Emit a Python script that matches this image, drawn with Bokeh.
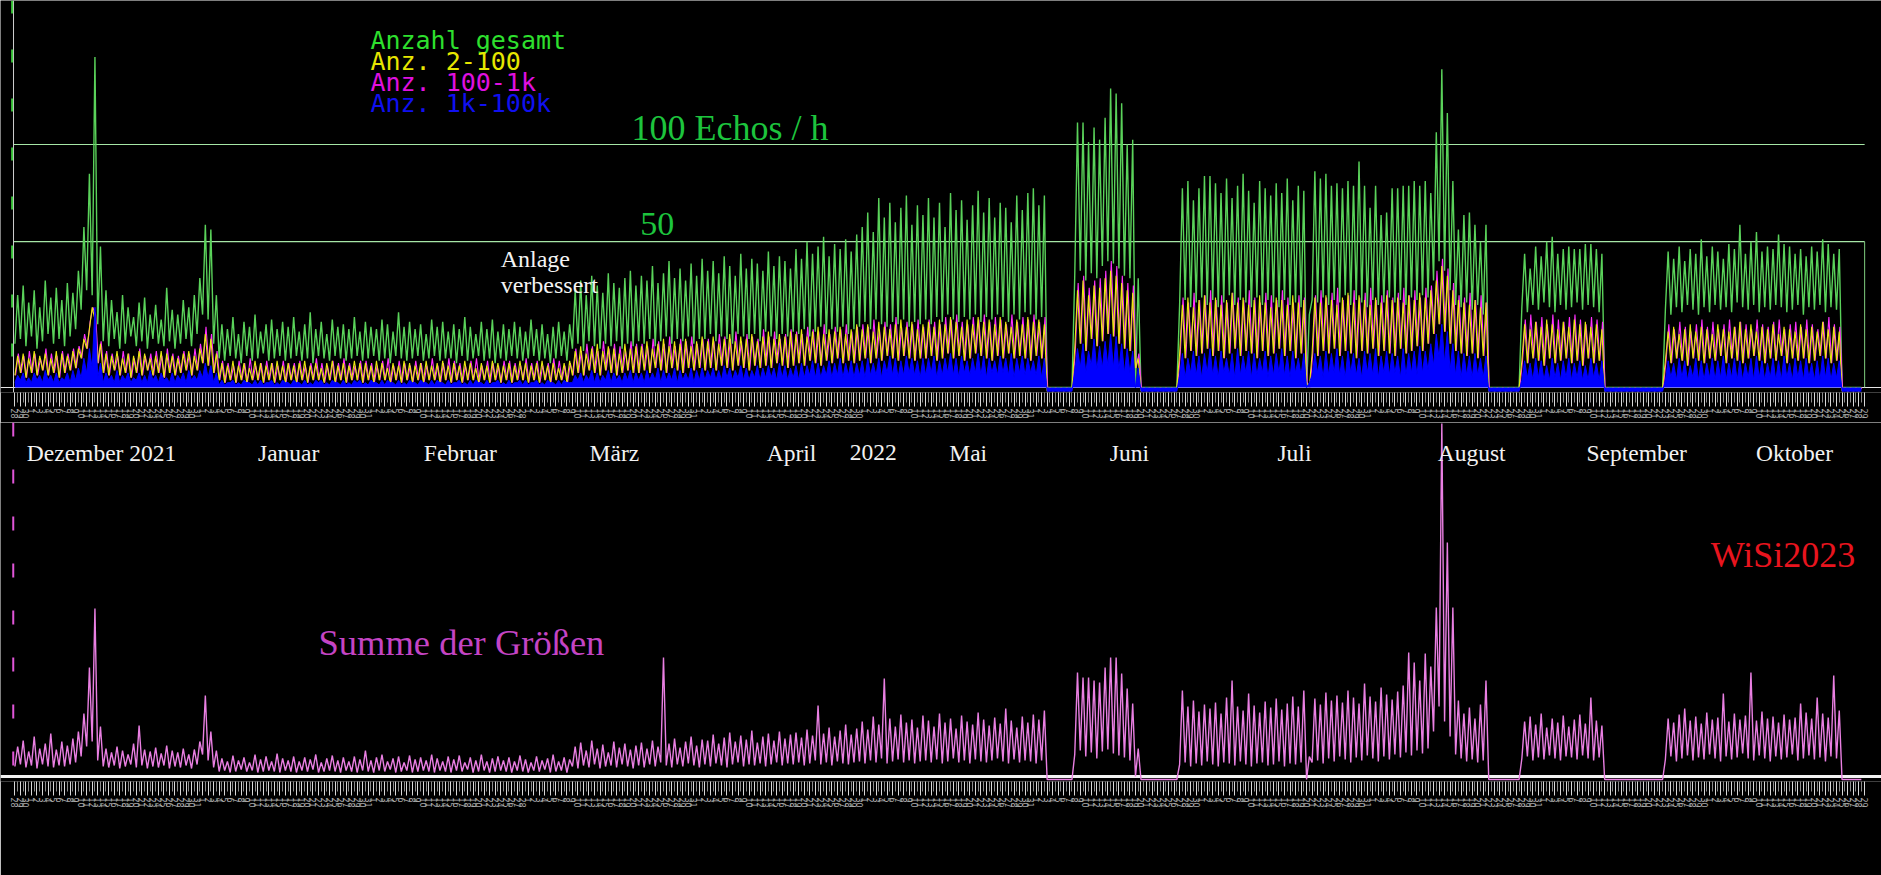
import math
from datetime import date, timedelta

from bokeh.embed import file_html
from bokeh.resources import INLINE
from bokeh.plotting import figure
from bokeh.models import Range1d, LinearAxis, FixedTicker, Span, Label, AllLabels
from bokeh.layouts import column

# day 0 of the series
START = date(2021, 11, 28)

# ---------------------------------------------------------------------------
# data: one value per day (daily peak / daily low)
# upper panel in echoes per hour, lower panel in arbitrary "sum" units
# gap lengths (no data): 5, 7, 6, 11, 4 days
# ---------------------------------------------------------------------------
green_peak = (
    [38, 42, 35, 40, 33, 44, 37, 41, 36, 43, 39, 48,
     66, 88, 136, 58,
     40, 36, 31, 38, 33, 29, 35, 37, 30, 34, 28, 41, 32, 30, 36, 33, 38,
     45, 67, 65, 38,
     26, 24, 29, 22, 27, 25, 30, 23, 26, 28, 24, 27, 25,
     29, 23, 26, 31, 24, 27, 22, 28, 25, 26, 24, 29, 23,
     27, 25, 24, 28, 26, 23, 31, 25, 27, 24, 26, 22, 28,
     25, 27, 23, 26, 24, 29, 25, 22, 27, 24, 28, 23, 26,
     24, 27, 25, 23, 28, 24, 26, 22, 25, 27, 23, 26,
     40, 44, 38, 46, 42, 39, 47, 43, 41, 45, 48, 42,
     46, 44, 50, 43, 47, 52, 45, 49, 44, 51, 46, 53,
     48, 52, 47, 54, 50, 46, 55, 49, 53, 51, 48, 56, 50, 54, 52, 49,
     57, 53, 60, 55, 58, 62, 54, 59, 57, 61, 56, 63,
     66, 72, 64, 78, 70, 76, 68, 74, 79, 67, 75, 71,
     78, 70, 76, 66, 80, 73, 77, 69, 75, 81, 72, 78, 70, 76, 74, 68, 79, 73, 80, 82, 75, 79]
    + [0] * 5
    + [109, 109, 101, 107, 102, 111, 123, 121, 117, 100, 102, 45]
    + [0] * 7
    + [82, 85, 77, 82, 87, 87, 84, 80, 86, 78, 83, 88, 81, 76, 85, 82, 79, 84, 80, 86, 77, 83, 81,
       30,
       89, 86, 88, 83, 84, 82, 85, 83, 93, 83, 74, 83, 71, 72, 82, 82, 83, 83, 85, 83, 85, 80,
       105, 131, 113, 85, 65, 71, 72, 67, 60, 67]
    + [0] * 6
    + [55, 49, 58, 54, 60, 62, 55, 57, 58, 57, 57, 59, 59, 57, 55]
    + [0] * 11
    + [56, 53, 58, 52, 57, 55, 61, 54, 58, 56, 53, 59, 57, 67, 55, 60,
       64, 56, 58, 57, 63, 59, 58, 55, 57, 54, 58, 56, 61, 59, 55, 57]
    + [0] * 4
)

green_low = (
    [18, 20, 17, 21, 16, 19, 22, 18, 20, 17, 21, 24,
     32, 40, 38, 26,
     19, 17, 20, 16, 18, 21, 17, 19, 16, 20, 18, 17, 19, 16, 18, 20, 17,
     22, 30, 28, 18,
     12, 11, 13, 12, 10, 13, 11, 12, 14, 11, 12, 13, 11,
     12, 13, 11, 12, 10, 13, 12, 11, 13, 12, 11, 12, 13,
     11, 12, 13, 11, 12, 10, 13, 12, 11, 12, 13, 11, 12,
     13, 11, 12, 12, 10, 13, 11, 12, 13, 11, 12, 10, 12,
     11, 13, 12, 11, 12, 13, 11, 12, 10, 12, 13, 11,
     16, 18, 15, 19, 17, 16, 18, 17, 19, 16, 18, 17,
     19, 18, 20, 17, 19, 21, 18, 20, 19, 21, 18, 20,
     20, 22, 19, 21, 20, 18, 22, 21, 20, 22, 19, 23, 21, 20, 22, 21,
     23, 22, 24, 21, 23, 25, 22, 24, 23, 25, 22, 24,
     25, 27, 24, 28, 26, 25, 27, 26, 28, 25, 27, 26,
     28, 26, 29, 27, 30, 28, 27, 29, 28, 30, 27, 29, 28, 30, 29, 27, 30, 28, 31, 30, 28, 29]
    + [0] * 5
    + [46, 48, 44, 47, 45, 50, 52, 51, 49, 46, 45, 0]
    + [0] * 7
    + [34, 36, 33, 35, 37, 34, 36, 33, 35, 38, 34, 36, 35, 33, 37, 34, 36, 35, 33, 36, 34, 35, 33,
       0,
       36, 35, 37, 34, 36, 35, 38, 34, 36, 35, 33, 36, 34, 35, 37, 35, 36, 34, 37, 36, 38, 37,
       44, 52, 48, 40, 34, 33, 35, 32, 34, 30]
    + [0] * 6
    + [33, 31, 34, 32, 35, 33, 31, 34, 32, 33, 35, 32, 34, 33, 31]
    + [0] * 11
    + [32, 30, 33, 31, 34, 32, 30, 33, 31, 34, 32, 33, 31, 35, 33, 32,
       34, 31, 33, 32, 34, 33, 31, 32, 34, 30, 33, 32, 34, 31, 33, 32]
    + [0] * 4
)

yellow_peak = (
    [13, 14, 12, 15, 13, 14, 12, 15, 14, 13, 15, 16,
     20, 24, 28, 18,
     14, 13, 15, 12, 14, 13, 15, 14, 12, 13, 15, 14, 13, 12, 14, 15, 13,
     16, 22, 20, 14,
     10, 9, 11, 9, 10, 8, 11, 10, 9, 10, 11, 9, 10,
     9, 10, 11, 9, 10, 8, 10, 11, 9, 10, 9, 11, 10,
     10, 9, 11, 10, 8, 10, 9, 11, 10, 9, 10, 11, 9,
     10, 11, 9, 10, 9, 11, 10, 8, 10, 9, 11, 10, 9,
     10, 9, 11, 10, 9, 10, 11, 9, 10, 8, 10, 11,
     15, 17, 14, 16, 18, 15, 17, 16, 14, 18, 16, 17,
     17, 19, 16, 18, 20, 17, 19, 18, 20, 17, 19, 21,
     19, 21, 18, 20, 22, 19, 21, 20, 22, 19, 21, 23, 20, 22, 21, 23,
     22, 24, 21, 23, 25, 22, 24, 23, 25, 22, 24, 26,
     24, 26, 23, 27, 25, 24, 26, 28, 25, 27, 24, 26,
     27, 25, 28, 26, 29, 27, 25, 28, 26, 29, 27, 28, 26, 29, 27, 25, 28, 26, 29, 27, 28, 26]
    + [0] * 5
    + [40, 44, 38, 42, 41, 45, 48, 46, 43, 40, 39, 12]
    + [0] * 7
    + [34, 37, 33, 36, 38, 35, 37, 34, 36, 39, 35, 37, 34, 36, 38, 35, 33, 37, 36, 34, 38, 35, 36,
       0,
       37, 35, 38, 36, 34, 37, 39, 35, 38, 36, 34, 37, 35, 38, 36, 37, 35, 38, 36, 39, 37, 40,
       44, 50, 46, 40, 36, 35, 34, 36, 33, 35]
    + [0] * 6
    + [26, 24, 27, 25, 28, 26, 24, 27, 25, 28, 26, 27, 25, 26, 24]
    + [0] * 11
    + [23, 25, 22, 24, 26, 23, 25, 24, 22, 26, 24, 23, 25, 27, 24, 26,
       23, 25, 24, 26, 22, 25, 24, 23, 26, 24, 25, 23, 27, 24, 25, 23]
    + [0] * 4
)

magenta_peak = (
    [14, 13, 15, 14, 12, 16, 14, 13, 15, 14, 16, 17,
     22, 27, 30, 19,
     15, 14, 13, 15, 14, 12, 16, 13, 14, 15, 13, 16, 14, 13, 15, 14, 16,
     18, 25, 22, 15,
     11, 10, 9, 11, 10, 12, 9, 10, 11, 10, 9, 11, 10,
     10, 11, 9, 10, 12, 10, 9, 11, 10, 12, 10, 9, 11,
     11, 10, 9, 11, 12, 9, 11, 10, 9, 11, 10, 9, 12,
     9, 10, 12, 11, 10, 9, 11, 12, 9, 11, 10, 9, 11,
     11, 10, 9, 12, 10, 11, 9, 10, 12, 11, 9, 10,
     16, 15, 18, 17, 15, 19, 16, 18, 17, 15, 19, 18,
     18, 17, 20, 19, 18, 21, 17, 20, 19, 21, 18, 20,
     20, 19, 22, 21, 20, 23, 19, 22, 21, 20, 24, 21, 23, 20, 22, 24,
     23, 22, 25, 24, 23, 26, 22, 25, 24, 26, 23, 25,
     26, 25, 28, 24, 27, 26, 29, 25, 27, 26, 28, 25,
     28, 27, 26, 29, 28, 30, 27, 26, 29, 28, 30, 27, 29, 28, 26, 30, 27, 29, 28, 30, 27, 29]
    + [0] * 5
    + [43, 46, 41, 44, 45, 48, 52, 50, 46, 43, 42, 14]
    + [0] * 7
    + [37, 35, 39, 36, 38, 40, 36, 38, 35, 39, 37, 36, 40, 37, 35, 39, 38, 36, 40, 37, 35, 38, 37,
       0,
       38, 40, 37, 39, 41, 36, 38, 40, 37, 39, 41, 36, 38, 40, 37, 39, 41, 38, 40, 37, 41, 42,
       48, 53, 49, 43, 38, 37, 39, 36, 38, 35]
    + [0] * 6
    + [28, 30, 27, 29, 26, 30, 28, 27, 29, 30, 28, 26, 29, 28, 27]
    + [0] * 11
    + [26, 24, 27, 25, 23, 26, 28, 25, 27, 24, 26, 28, 25, 27, 26, 24,
       28, 26, 25, 27, 28, 24, 26, 27, 25, 28, 26, 24, 27, 29, 26, 25]
    + [0] * 4
)

blue_peak = (
    [5, 6, 4, 6, 5, 7, 5, 6, 4, 6, 7, 8,
     12, 16, 33, 10,
     6, 5, 7, 5, 6, 4, 6, 5, 7, 5, 6, 4, 6, 5, 6, 7, 5,
     7, 10, 9, 6,
     3, 2, 3, 2, 3, 2, 3, 3, 2, 3, 2, 3, 2,
     3, 2, 3, 2, 3, 3, 2, 3, 2, 3, 2, 3, 3,
     2, 3, 2, 3, 3, 2, 3, 2, 3, 2, 3, 2, 3,
     3, 2, 3, 2, 3, 2, 3, 3, 2, 3, 2, 3, 2,
     3, 2, 3, 3, 2, 3, 2, 3, 2, 3, 3, 2,
     5, 6, 5, 7, 6, 5, 7, 6, 5, 6, 7, 6,
     6, 7, 6, 8, 7, 6, 8, 7, 6, 8, 7, 8,
     7, 8, 7, 9, 8, 7, 9, 8, 7, 9, 8, 9, 8, 10, 9, 8,
     9, 10, 9, 11, 10, 9, 11, 10, 12, 10, 11, 10,
     11, 12, 10, 12, 11, 13, 12, 11, 13, 12, 11, 12,
     12, 13, 11, 12, 14, 12, 13, 11, 12, 14, 13, 12, 11, 13, 12, 14, 12, 13, 12, 11, 13, 12]
    + [-1.5] * 5
    + [16, 18, 15, 20, 17, 19, 22, 21, 18, 16, 15, 8]
    + [-1.5] * 7
    + [14, 12, 15, 13, 14, 16, 13, 15, 12, 14, 16, 13, 15, 14, 12, 15, 13, 14, 16, 13, 15, 12, 14,
       2,
       14, 13, 15, 14, 16, 13, 15, 14, 12, 15, 14, 16, 13, 15, 14, 13, 16, 14, 15, 17, 15, 18,
       22, 26, 23, 18, 15, 14, 13, 14, 12, 13]
    + [-1.5] * 6
    + [11, 10, 12, 11, 9, 12, 10, 11, 12, 10, 11, 9, 12, 10, 11]
    + [-1.5] * 11
    + [11, 10, 12, 11, 9, 12, 11, 10, 12, 11, 13, 10, 12, 11, 10, 12,
       13, 11, 10, 12, 11, 13, 10, 12, 11, 12, 10, 11, 13, 12, 10, 11]
    + [-1.5] * 4
)

blue_low = (
    [2, 3, 2, 2, 3, 2, 3, 2, 2, 3, 2, 3,
     4, 6, 8, 4,
     2, 3, 2, 2, 3, 2, 3, 2, 2, 3, 2, 3, 2, 2, 3, 2, 3,
     3, 4, 4, 2,
     1, 1, 2, 1, 1, 2, 1, 1, 1, 2, 1, 1, 2,
     1, 2, 1, 1, 1, 2, 1, 1, 2, 1, 1, 1, 2,
     1, 1, 2, 1, 1, 2, 1, 1, 1, 2, 1, 2, 1,
     1, 2, 1, 1, 2, 1, 1, 1, 2, 1, 1, 2, 1,
     1, 1, 2, 1, 1, 2, 1, 1, 2, 1, 1, 2,
     2, 3, 2, 3, 2, 2, 3, 2, 3, 2, 3, 2,
     3, 2, 3, 3, 2, 3, 3, 2, 3, 3, 2, 3,
     3, 4, 3, 3, 4, 3, 4, 3, 3, 4, 3, 4, 4, 3, 4, 3,
     4, 3, 4, 5, 4, 4, 5, 4, 5, 4, 5, 4,
     5, 4, 5, 5, 4, 6, 5, 4, 5, 6, 5, 4,
     5, 6, 4, 5, 6, 5, 4, 6, 5, 6, 5, 4, 6, 5, 6, 5, 4, 6, 5, 6, 5, 4]
    + [-1.5] * 5
    + [7, 8, 6, 9, 7, 8, 9, 8, 7, 6, 6, 0]
    + [-1.5] * 7
    + [5, 4, 6, 5, 4, 6, 5, 4, 6, 5, 4, 5, 6, 4, 5, 6, 4, 5, 6, 5, 4, 6, 5,
       0,
       5, 6, 4, 5, 6, 5, 4, 6, 5, 4, 6, 5, 4, 6, 5, 6, 4, 5, 6, 5, 6, 7,
       9, 12, 10, 7, 5, 4, 5, 4, 5, 4]
    + [-1.5] * 6
    + [3, 4, 3, 4, 3, 3, 4, 3, 4, 3, 4, 3, 3, 4, 3]
    + [-1.5] * 11
    + [3, 4, 3, 4, 3, 4, 3, 3, 4, 3, 4, 3, 4, 3, 3, 4,
       3, 4, 3, 4, 3, 3, 4, 3, 4, 3, 4, 3, 3, 4, 3, 4]
    + [-1.5] * 4
)

sum_peak = (
    [30, 36, 25, 40, 28, 33, 43, 27, 35, 31, 38, 45,
     63, 109, 168, 50,
     28, 24, 30, 26, 22, 33, 51, 27, 25, 29, 23, 31, 26, 24, 28, 22, 27,
     35, 81, 45, 26,
     18, 15, 21, 16, 19, 14, 22, 17, 20, 15, 23, 18, 16,
     20, 15, 19, 17, 22, 14, 18, 21, 16, 19, 15, 20, 17,
     26, 16, 19, 22, 15, 18, 20, 14, 21, 17, 19, 16, 22,
     18, 15, 20, 17, 21, 14, 19, 16, 22, 15, 18, 20, 16,
     19, 15, 21, 17, 14, 20, 16, 18, 22, 15, 19, 17,
     30, 34, 26, 36, 28, 32, 24, 35, 29, 33, 27, 31,
     34, 28, 36, 30, 119, 33, 38, 29, 35, 40, 31, 37,
     36, 42, 33, 39, 44, 35, 41, 37, 46, 34, 40, 43, 36, 45, 38, 42,
     44, 39, 47, 41, 71, 43, 49, 40, 46, 52, 42, 48,
     55, 47, 60, 52, 98, 58, 50, 62, 54, 57, 49, 61,
     56, 50, 63, 54, 58, 48, 61, 55, 52, 64, 57, 51, 59, 53, 68, 56, 49, 60, 54, 62, 57, 66]
    + [-3] * 5
    + [104, 99, 99, 96, 94, 109, 119, 119, 103, 88, 73, 28]
    + [-3] * 7
    + [86, 70, 76, 65, 72, 68, 74, 63, 79, 96, 70, 66, 83, 71, 64, 75, 69, 78, 67, 73, 80, 70, 86,
       20,
       78, 72, 84, 76, 81, 74, 86, 79, 73, 93, 80, 75, 89, 82, 77, 85, 91, 124, 114, 96, 123, 110,
       169, 353, 234, 169, 76, 63, 69, 58, 72, 96]
    + [-3] * 6
    + [55, 60, 52, 63, 49, 58, 54, 61, 50, 57, 62, 53, 79, 56, 51]
    + [-3] * 11
    + [58, 54, 62, 68, 56, 60, 53, 64, 57, 59, 83, 55, 63, 57, 61, 104,
       56, 65, 58, 60, 54, 62, 57, 59, 73, 64, 58, 79, 63, 59, 101, 66]
    + [-3] * 4
)

sum_low = (
    [10, 12, 9, 11, 8, 12, 10, 9, 11, 10, 12, 14,
     20, 30, 35, 16,
     10, 9, 11, 8, 10, 12, 9, 11, 8, 10, 9, 11, 8, 10, 9, 11, 8,
     12, 22, 16, 9,
     5, 6, 4, 5, 7, 5, 6, 4, 5, 6, 5, 4, 6,
     5, 4, 6, 5, 7, 4, 5, 6, 5, 4, 6, 5, 4,
     6, 5, 4, 6, 5, 7, 4, 5, 6, 4, 5, 6, 5,
     4, 6, 5, 4, 6, 5, 7, 4, 5, 6, 4, 5, 6,
     5, 4, 6, 5, 4, 6, 5, 7, 4, 5, 6, 4,
     10, 8, 11, 9, 12, 8, 10, 11, 9, 12, 10, 8,
     11, 9, 12, 10, 14, 11, 9, 12, 10, 13, 11, 9,
     12, 10, 13, 11, 9, 12, 14, 10, 12, 11, 13, 10, 12, 14, 11, 13,
     12, 14, 11, 13, 16, 12, 14, 11, 15, 13, 12, 14,
     15, 13, 16, 14, 18, 13, 15, 17, 14, 16, 13, 15,
     16, 14, 17, 13, 15, 18, 14, 16, 13, 17, 15, 14, 16, 18, 15, 13, 17, 14, 16, 15, 13, 16]
    + [-3] * 5
    + [22, 26, 20, 24, 18, 25, 27, 23, 21, 19, 16, 0]
    + [-3] * 7
    + [12, 14, 10, 13, 11, 15, 12, 10, 14, 13, 11, 15, 12, 10, 13, 14, 11, 12, 15, 10, 13, 12, 14,
       -3,
       14, 16, 13, 18, 15, 20, 17, 14, 19, 16, 21, 18, 15, 20, 17, 22, 19, 24, 21, 26, 23, 28,
       45, 70, 55, 40, 22, 18, 15, 17, 14, 16]
    + [-3] * 6
    + [18, 20, 16, 19, 17, 21, 18, 16, 20, 19, 17, 21, 18, 16, 19]
    + [-3] * 11
    + [17, 20, 15, 18, 21, 16, 19, 17, 22, 18, 15, 20, 17, 19, 23, 18,
       16, 21, 18, 15, 20, 17, 19, 22, 16, 18, 21, 17, 19, 15, 20, 18]
    + [-3] * 4
)

# reference lines of the upper panel and their labels
ref_levels = [100, 60]
ref_texts = ["100 Echos / h", "50"]

month_names = ["Dezember 2021", "Januar", "Februar", "März", "April", "2022", "Mai",
               "Juni", "Juli", "August", "September", "Oktober"]
month_days = [15.7, 49.6, 80.7, 108.6, 140.7, 155.5, 172.7, 201.9, 231.8, 263.9, 293.8, 322.4]

legend_texts = ["Anzahl gesamt", "Anz. 2-100", "Anz. 100-1k", "Anz. 1k-100k"]
legend_colors = ["#2ee02e", "#e6e600", "#e010e0", "#1010f0"]

n_days = len(green_peak)


def zigzag(lo, hi):
    xs, ys = [], []
    for d, (a, b) in enumerate(zip(lo, hi)):
        xs += [d, d + 0.5]
        ys += [a, b]
    return xs, ys


# ---------------------------------------------------------------------------
# layout (pixels of the 1881x875 page, the page itself has no margin)
# ---------------------------------------------------------------------------
W, H = 1881, 875
X0, PX_DAY = 14.4, 5.52          # page x of day 0, pixels per day
x_lo = -X0 / PX_DAY
x_hi = (W - X0) / PX_DAY

BASE1, PX_ECHO = 387, 2.43       # upper panel baseline and scale
BASE2 = 776                      # lower panel baseline (1 unit = 1 px)
SPLIT = 422                      # page y where the lower panel starts

GREEN = "#5ad25a"
SERIF = "Liberation Serif"


def day_axis(p, tick_len):
    ticks = list(range(n_days + 1))
    ax = LinearAxis(ticker=FixedTicker(ticks=ticks, minor_ticks=[d + 0.5 for d in range(n_days)]))
    ax.major_label_overrides = {d: str((START + timedelta(days=d)).day) for d in ticks}
    ax.axis_line_color = None
    ax.major_tick_line_color = "#d8d8d8"
    ax.major_tick_in = 0
    ax.major_tick_out = tick_len
    ax.minor_tick_line_color = "#8a8a8a"
    ax.minor_tick_in = 0
    ax.minor_tick_out = tick_len - 4
    ax.major_label_orientation = "vertical"
    ax.major_label_text_font = "DejaVu Sans"
    ax.major_label_text_font_size = "8px"
    ax.major_label_text_color = "#a6a6a6"
    ax.major_label_standoff = 2
    ax.major_label_policy = AllLabels()
    p.add_layout(ax, "below")


def base_figure(height, y_range, bottom):
    p = figure(width=W, height=height, x_range=Range1d(x_lo, x_hi), y_range=y_range,
               x_axis_type=None, y_axis_type=None, toolbar_location=None,
               output_backend="svg", min_border_left=0, min_border_right=0,
               min_border_top=0, min_border_bottom=bottom)
    p.background_fill_color = "black"
    p.border_fill_color = "black"
    p.outline_line_color = None
    return p


def add_text(p, x, y, text, size, color, font=SERIF, align="left"):
    # y is the vertical centre of the text as seen in the picture
    p.add_layout(Label(x=x, y=y, text=text, text_font=font, text_font_size=size,
                       text_color=color, text_align=align, text_baseline="alphabetic"))


# ---------------------------------------------------------------------------
# upper panel: echo counts per size class
# ---------------------------------------------------------------------------
top_frame_bottom = 392
p1 = base_figure(SPLIT,
                 Range1d((BASE1 - top_frame_bottom) / PX_ECHO, BASE1 / PX_ECHO),
                 SPLIT - top_frame_bottom)

p1.add_layout(Span(location=0, dimension="width", line_color="#e6e6e6", line_width=1, level="underlay"))
p1.add_layout(Span(location=-0.25, dimension="height", line_color="#d0d0d0", line_width=1))
p1.add_layout(Span(location=-0.5, dimension="height", line_color="#3cc83c", line_width=2, line_dash="13 36"))

for lvl in ref_levels:
    p1.segment(x0=-0.2, y0=lvl, x1=n_days + 0.1, y1=lvl, line_color="#a6e6a6", line_width=1.2)
p1.segment(x0=n_days + 0.1, y0=0, x1=n_days + 0.1, y1=ref_levels[1], line_color="#7fcf7f", line_width=1)

gx, gy = zigzag(green_low, green_peak)
p1.line(gx, gy, line_color=GREEN, line_width=1.4)

mx, my = zigzag(blue_peak, magenta_peak)
p1.line([x + 0.12 for x in mx], my, line_color="#ff30ff", line_width=1.1)

yx, yy = zigzag(blue_peak, yellow_peak)
p1.line(yx, yy, line_color="#eaea10", line_width=1.1)

bx, by = zigzag(blue_low, blue_peak)
p1.varea(x=bx, y1=0, y2=by, fill_color="#0000ff")
p1.line(bx, by, line_color="#0000ff", line_width=1)

add_text(p1, 111.7, 106.6, ref_texts[0], "36px", "#1dc43d")
add_text(p1, 113.3, 67.3, ref_texts[1], "34px", "#1dc43d")
add_text(p1, 88.0, 52.7, "Anlage", "24px", "#f4f4f4")
add_text(p1, 88.0, 42.2, "verbessert", "24px", "#f4f4f4")

for i, (txt, col) in enumerate(zip(legend_texts, legend_colors)):
    add_text(p1, 64.4, 142.8 - i * 8.65, txt, "25px", col, font="DejaVu Sans Mono")

day_axis(p1, 14)

# ---------------------------------------------------------------------------
# lower panel: sum of sizes
# ---------------------------------------------------------------------------
low_frame_bottom = 781
p2 = base_figure(H - SPLIT,
                 Range1d(BASE2 - low_frame_bottom, BASE2 - SPLIT),
                 H - low_frame_bottom)

p2.add_layout(Span(location=0, dimension="width", line_color="#f2f2f2", line_width=3, level="underlay"))
p2.add_layout(Span(location=-0.3, dimension="height", line_color="#e055d8", line_width=2, line_dash="14 33"))

sx, sy = zigzag(sum_low, sum_peak)
p2.line(sx, sy, line_color="#e97fe2", line_width=1.4)

for name, d in zip(month_names, month_days):
    add_text(p2, d, BASE2 - 452, name, "23.5px", "#f2f2f2", align="center")

add_text(p2, 55.0, 134, "Summe der Größen", "36.5px", "#c444c4")
add_text(p2, 307.2, 222, "WiSi2023", "36px", "#e8141e")

day_axis(p2, 14)

layout = column(p1, p2)
open("out.html", "w").write(file_html(layout, INLINE))
